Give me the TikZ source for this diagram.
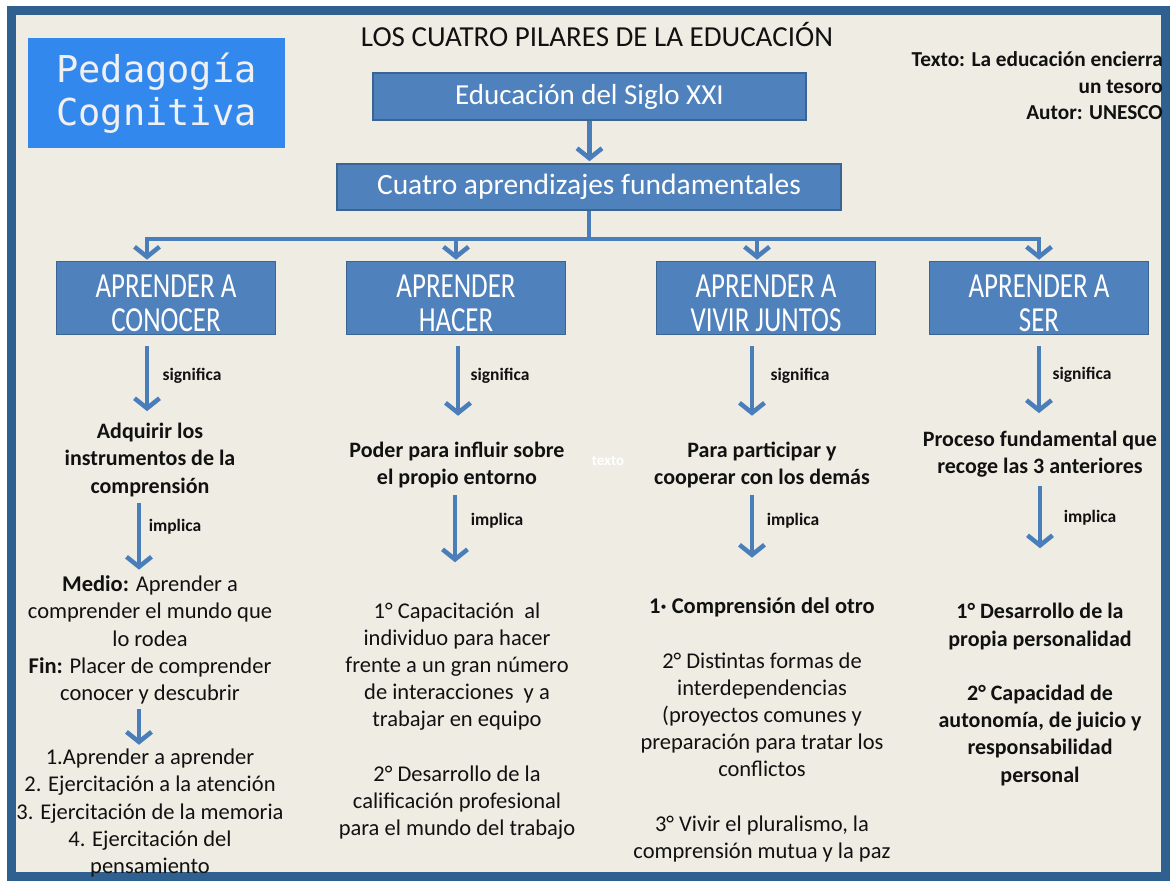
\documentclass[tikz,border=0pt]{standalone}
\usepackage{fontspec}
\usepackage{graphicx}
\setmainfont{Carlito}
\newfontfamily\monof{DejaVu Sans Mono}
\usetikzlibrary{arrows.meta,calc}
\definecolor{bgc}{HTML}{EEECE3}
\definecolor{framec}{HTML}{30608F}
\definecolor{boxfill}{HTML}{4F81BD}
\definecolor{boxline}{HTML}{3A6592}
\definecolor{arrc}{HTML}{4A7EBB}
\definecolor{pedac}{HTML}{3388EE}
\definecolor{txt}{HTML}{111111}
\newcommand{\piltext}[2]{\raisebox{-17.5pt}[0pt][0pt]{\scalebox{0.98}[1.28]{\begin{tabular}{@{}c@{}}#1\\#2\end{tabular}}}}
\begin{document}
\begin{tikzpicture}[x=1pt,y=-1pt,
  box/.style={draw=boxline,fill=boxfill,line width=1.6pt,text=white,inner sep=0pt,align=center},
  arr/.style={draw=arrc,line width=4.5pt,-{Straight Barb[length=10pt,width=25pt]}},
  conn/.style={draw=arrc,line width=4.5pt},
  lbl/.style={font=\bfseries\fontsize{17.5}{20}\selectfont,text=txt,inner sep=0pt},
  txtb/.style={font=\bfseries\fontsize{22}{27.2}\selectfont,align=center,text=txt,inner sep=0pt},
  txtr/.style={font=\fontsize{22.5}{27.2}\selectfont,align=center,text=txt,inner sep=0pt},
  pil/.style={box,minimum width=219pt,minimum height=73pt,font=\fontsize{27.5}{26.5}\selectfont},
]
\useasboundingbox (0,0) rectangle (1171,882);
\fill[white] (0,0) rectangle (1171,882);
\draw[framec,line width=9pt,fill=bgc] (11,11) rectangle (1165,876);

% Pedagogia box
\node[fill=pedac,text=white!94!black,minimum width=257pt,minimum height=110pt,inner sep=0pt,align=center,
  font=\monof\fontsize{37}{43}\selectfont] (peda) at (156.5,93) {Pedagogía\\Cognitiva};

% title
\node[font=\fontsize{29}{32}\selectfont,text=txt,inner sep=0pt] (title) at (597,35) {LOS CUATRO PILARES DE LA EDUCACIÓN};

% source
\node[font=\bfseries\fontsize{21.3}{26.5}\selectfont,align=right,anchor=east,text=txt,inner sep=0pt] (src) at (1163,86)
  {Texto: La educación encierra\\un tesoro\\Autor: UNESCO};

% top boxes
\node[box,minimum width=433pt,minimum height=47pt,font=\fontsize{29}{32}\selectfont] (e21) at (589.5,96.5) {Educación del Siglo XXI};
\node[box,minimum width=504pt,minimum height=46pt,font=\fontsize{29.5}{32}\selectfont] (cuatro) at (589,187) {Cuatro aprendizajes fundamentales};

\draw[arr,shorten >=2pt] (e21.south) -- (e21.south |- cuatro.north);

% pillars
\node[pil] (pa) at (166,298) {\piltext{APRENDER A}{CONOCER}};
\node[pil] (pb) at (456,298) {\piltext{APRENDER}{HACER}};
\node[pil] (pc) at (766,298) {\piltext{APRENDER A}{VIVIR JUNTOS}};
\node[pil] (pd) at (1039,298) {\piltext{APRENDER A}{SER}};

\coordinate (bus) at ($(cuatro.south)+(0,28)$);
\coordinate (busA) at ($(bus -| pa.north)+(-19,0)$);
\coordinate (busD) at (bus -| pd.north);
\draw[conn] (cuatro.south) -- (bus);
\draw[conn,line cap=rect] (busA) -- (busD);
\draw[arr,shorten >=1pt] (busA) -- ([xshift=-19pt]pa.north);
\draw[arr,shorten >=1pt] (bus -| pb.north) -- (pb.north);
\draw[arr,shorten >=1pt] ($(bus -| pc.north)+(-9,0)$) -- ([xshift=-9pt]pc.north);
\draw[arr,shorten >=1pt] (busD) -- (pd.north);

% column A
\node[txtb] (ta1) at (150,460) {Adquirir los\\instrumentos de la\\comprensión};
\node[txtr] (ta2) at (150,640) {\textbf{Medio:} Aprender a\\comprender el mundo que\\lo rodea\\\textbf{Fin:} Placer de comprender\\conocer y descubrir};
\node[txtr] (ta3) at (150,813) {1.Aprender a aprender\\2. Ejercitación a la atención\\3. Ejercitación de la memoria\\4. Ejercitación del\\pensamiento};
\draw[arr,shorten <=11pt,shorten >=12pt] ([xshift=-19pt]pa.south) -- ([xshift=-19pt]pa.south |- ta1.north);
\draw[arr,shorten <=6pt,shorten >=6pt] ([xshift=-11pt]ta1.south) -- ([xshift=-11pt]ta1.south |- ta2.north);
\draw[arr,shorten <=5pt,shorten >=4pt] ([xshift=-11pt]ta2.south) -- ([xshift=-11pt]ta2.south |- ta3.north);
\node[lbl] (sa) at (192,376) {significa};
\node[lbl] (ia) at (175,527) {implica};

% column B
\node[txtb] (tb1) at (457,465) {Poder para influir sobre\\el propio entorno};
\node[txtr] (tb2) at (457,721) {1° Capacitación\ \ al\\individuo para hacer\\frente a un gran número\\de interacciones\ \ y a\\trabajar en equipo\\[27.2pt]2° Desarrollo de la\\calificación profesional\\para el mundo del trabajo};
\draw[arr,shorten <=11pt,shorten >=26pt] ([xshift=2pt]pb.south) -- ([xshift=2pt]pb.south |- tb1.north);
\draw[arr,shorten <=7pt,shorten >=40pt] ([xshift=-2pt]tb1.south) -- ([xshift=-2pt]tb1.south |- tb2.north);
\node[lbl] (sb) at (500,376) {significa};
\node[lbl] (ib) at (497,521) {implica};
\node[font=\bfseries\fontsize{15}{16}\selectfont,text=white,inner sep=0pt] (tx) at (608,461) {texto};

% column C
\node[txtb] (tc1) at (762,465) {Para participar y\\cooperar con los demás};
\node[txtr] (tc2) at (762,730) {\textbf{1· Comprensión del otro}\\[27.2pt]2° Distintas formas de\\interdependencias\\(proyectos comunes y\\preparación para tratar los\\conflictos\\[27.2pt]3° Vivir el pluralismo, la\\comprensión mutua y la paz};
\draw[arr,shorten <=11pt,shorten >=26pt] ([xshift=-14pt]pc.south) -- ([xshift=-14pt]pc.south |- tc1.north);
\draw[arr,shorten <=7pt,shorten >=40pt] ([xshift=-10pt]tc1.south) -- ([xshift=-10pt]tc1.south |- tc2.north);
\node[lbl] (scl) at (800,376) {significa};
\node[lbl] (ic) at (793,521) {implica};

% column D
\node[txtb] (td1) at (1040,454.5) {Proceso fundamental que\\recoge las 3 anteriores};
\node[txtb] (td2) at (1040,694.5) {1° Desarrollo de la\\propia personalidad\\[27.2pt]2° Capacidad de\\autonomía, de juicio y\\responsabilidad\\personal};
\draw[arr,shorten <=11pt,shorten >=18pt] (pd.south) -- (pd.south |- td1.north);
\draw[arr,shorten <=8pt,shorten >=55pt] (td1.south) -- (td1.south |- td2.north);
\node[lbl] (sd) at (1082,375) {significa};
\node[lbl] (id) at (1090,518) {implica};
\end{tikzpicture}
\end{document}
